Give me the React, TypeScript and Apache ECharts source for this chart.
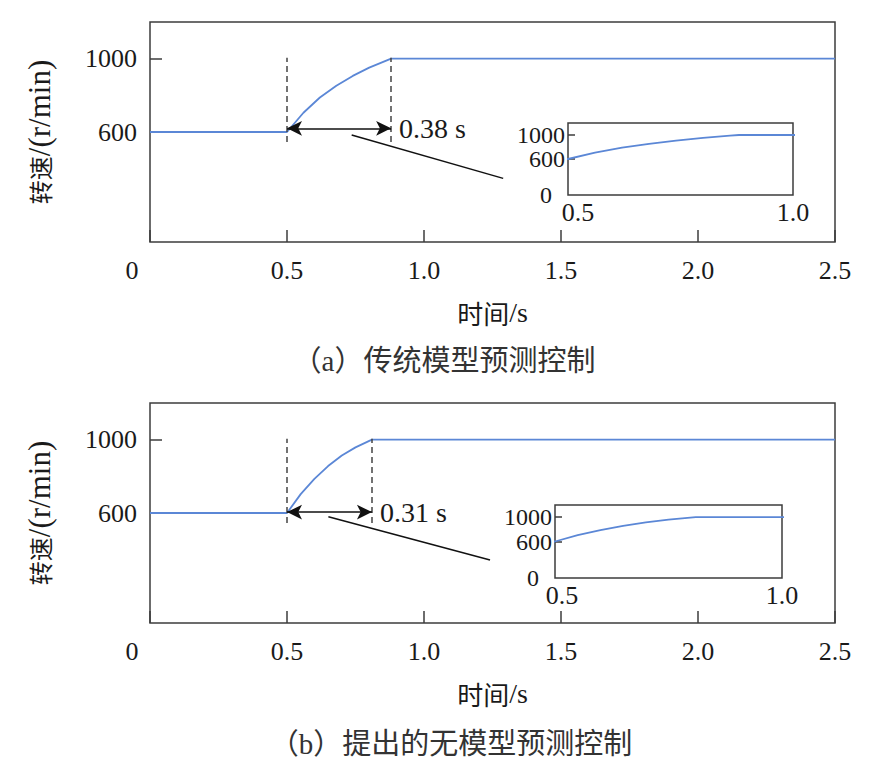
import { useEffect, useRef } from 'react';
import * as echarts from 'echarts';

// 速度响应数据
const timeA = [0, 0.5, 0.56, 0.62, 0.68, 0.74, 0.8, 0.86, 0.88, 2.5];
const speedA = [600, 600, 705, 788, 852, 906, 951, 988, 1000, 1000];
const timeB = [0, 0.5, 0.55, 0.6, 0.65, 0.7, 0.75, 0.81, 2.5];
const speedB = [600, 600, 703, 786, 856, 914, 958, 1000, 1000];

const mainYLabels = [600, 1000];
const insetYLabels = [0, 1000];
const insetMidLabel = [600];

// 标注
const stepStart = 0.5;
const settleA = 0.88;
const settleB = 0.81;
const riseA = '0.38 s';
const riseB = '0.31 s';
const dashRange = [545, 1005];
const arrowLevelA = 620;
const arrowLevelB = 605;
const linkA = [[0.736, 584], [1.289, 347]];
const linkB = [[0.651, 580], [1.241, 344]];

const captionA = '（a）传统模型预测控制';
const captionB = '（b）提出的无模型预测控制';

const BLUE = '#5b87d6';
const INK = '#1a1a1a';
const FRAME = '#3c3c3c';
const SERIF = '"Liberation Serif", "Times New Roman", serif';
const CJK = '"Noto Sans CJK SC", sans-serif';
const MIX = '"Liberation Serif", "Noto Sans CJK SC", serif';

const pairs = (xs: number[], ys: number[]) => xs.map((x, i) => [x, ys[i]]);

function frame(left: number, top: number, width: number, height: number, bg: string) {
  return {
    left, top, width, height,
    show: true,
    borderColor: FRAME,
    borderWidth: 1.5,
    backgroundColor: bg,
    containLabel: false,
  };
}

function mainX(gridIndex: number): any {
  return {
    gridIndex,
    type: 'value',
    min: 0,
    max: 2.5,
    interval: 0.5,
    axisLine: { show: false },
    axisTick: { show: true, inside: true, length: 12, lineStyle: { color: FRAME, width: 1.5 } },
    splitLine: { show: false },
    axisLabel: {
      margin: 15,
      fontSize: 26,
      color: INK,
      fontFamily: SERIF,
      formatter: (v: number) => (v === 0 ? '{z|0}' : v.toFixed(1)),
      rich: { z: { fontSize: 26, fontFamily: SERIF, color: INK, padding: [0, 36, 0, 0] } },
    },
    name: '{c|时间}{l|/s}',
    nameLocation: 'middle',
    nameGap: 56,
    nameTextStyle: {
      rich: {
        c: { fontSize: 26, fontFamily: CJK, color: INK },
        l: { fontSize: 28, fontFamily: SERIF, color: INK },
      },
    },
  };
}

function mainY(gridIndex: number): any {
  return {
    gridIndex,
    type: 'value',
    min: 0,
    max: 1200,
    interval: 200,
    axisLine: { show: false },
    axisTick: {
      show: true, inside: true, length: 12,
      customValues: mainYLabels,
      lineStyle: { color: FRAME, width: 1.5 },
    },
    splitLine: { show: false },
    axisLabel: {
      customValues: mainYLabels,
      margin: 13,
      fontSize: 26,
      color: INK,
      fontFamily: SERIF,
      formatter: (v: number) => String(v),
    },
    name: '{c|转速}{l|/(r/min)}',
    nameLocation: 'middle',
    nameGap: 95,
    nameTextStyle: {
      rich: {
        c: { fontSize: 24, fontFamily: CJK, color: INK },
        l: { fontSize: 31, fontFamily: SERIF, color: INK },
      },
    },
  };
}

function insetX(gridIndex: number, shift: number): any {
  return {
    gridIndex,
    type: 'value',
    min: 0.5,
    max: 1.0,
    interval: 0.5,
    axisLine: { show: false },
    axisTick: { show: false },
    splitLine: { show: false },
    axisLabel: {
      margin: 4,
      fontSize: 26,
      color: INK,
      fontFamily: SERIF,
      formatter: (v: number) => (v === 0.5 ? '{s|0.5}' : v.toFixed(1)),
      rich: { s: { fontSize: 26, fontFamily: SERIF, color: INK, padding: [0, 0, 0, shift * 2] } },
    },
  };
}

// 小图纵轴：0 与 1000 一根轴，600 另一根重叠的轴（避免标签互相隐藏）
function insetY(gridIndex: number, labels: number[], ticks: boolean): any {
  return {
    gridIndex,
    type: 'value',
    position: 'left',
    offset: 0,
    min: 0,
    max: 1200,
    interval: 200,
    axisLine: { show: false },
    axisTick: {
      show: ticks, inside: true, length: 7,
      customValues: [600, 1000],
      lineStyle: { color: FRAME, width: 1.5 },
    },
    splitLine: { show: false },
    axisLabel: {
      customValues: labels,
      hideOverlap: false,
      showMinLabel: true,
      showMaxLabel: true,
      margin: 3,
      fontSize: 24,
      lineHeight: 20,
      color: INK,
      fontFamily: SERIF,
      formatter: (v: number) => (v === 0 ? '{z|0}' : String(v)),
      rich: {
        z: { fontSize: 24, lineHeight: 20, fontFamily: SERIF, color: INK, padding: [0, 13, 0, 0] },
      },
    },
  };
}

function guides(settle: number, label: string, level: number, link: number[][]): any {
  const dash = { type: [6, 4], color: '#444', width: 1.5 };
  const solid = { type: 'solid', color: '#111', width: 1.5 };
  return {
    silent: true,
    animation: false,
    symbol: ['none', 'none'],
    label: { show: false },
    emphasis: { disabled: true },
    data: [
      [{ coord: [stepStart, dashRange[0]], lineStyle: dash }, { coord: [stepStart, dashRange[1]] }],
      [{ coord: [settle, dashRange[0]], lineStyle: dash }, { coord: [settle, dashRange[1]] }],
      [
        {
          coord: [stepStart, level],
          symbol: 'arrow',
          symbolSize: [11, 15],
          lineStyle: solid,
          label: {
            show: true,
            position: 'end',
            distance: 8,
            formatter: label,
            fontSize: 28,
            fontFamily: SERIF,
            color: INK,
          },
        },
        { coord: [settle, level], symbol: 'arrow', symbolSize: [11, 15] },
      ],
      [{ coord: link[0], lineStyle: solid }, { coord: link[1] }],
    ],
  };
}

function curve(data: number[][], xIndex: number, yIndex: number, markLine?: any): any {
  return {
    type: 'line',
    xAxisIndex: xIndex,
    yAxisIndex: yIndex,
    data,
    showSymbol: false,
    symbol: 'none',
    clip: true,
    lineStyle: { color: BLUE, width: 1.8 },
    itemStyle: { color: BLUE },
    markLine,
  };
}

function caption(text: string, x: number, y: number): any {
  return {
    type: 'text',
    x,
    y,
    style: {
      text,
      fontSize: 29,
      fontFamily: MIX,
      fill: '#333',
      align: 'center',
      verticalAlign: 'middle',
      textAlign: 'center',
      textVerticalAlign: 'middle',
    },
  };
}

export default function App(): JSX.Element {
  const chartRef = useRef<HTMLDivElement>(null);

  useEffect(() => {
    if (!chartRef.current) return;
    document.body.style.margin = '0';
    const chart = echarts.init(chartRef.current, null, { renderer: 'svg' });

    const dataA = pairs(timeA, speedA);
    const dataB = pairs(timeB, speedB);

    chart.setOption({
      animation: false,
      textStyle: { fontFamily: MIX },
      grid: [
        frame(150, 22, 685, 220, 'transparent'),
        frame(568, 123, 225, 72, '#fff'),
        frame(150, 403, 685, 220, 'transparent'),
        frame(555, 505, 227, 73, '#fff'),
      ],
      xAxis: [mainX(0), insetX(1, 10), mainX(2), insetX(3, 7)],
      yAxis: [
        mainY(0),
        insetY(1, insetYLabels, true),
        mainY(2),
        insetY(3, insetYLabels, true),
        insetY(1, insetMidLabel, false),
        insetY(3, insetMidLabel, false),
      ],
      series: [
        curve(dataA, 0, 0, guides(settleA, riseA, arrowLevelA, linkA)),
        curve(dataA, 1, 1),
        curve(dataB, 2, 2, guides(settleB, riseB, arrowLevelB, linkB)),
        curve(dataB, 3, 3),
      ],
      graphic: [caption(captionA, 444, 361), caption(captionB, 451, 744)],
    });

    return () => {
      chart.dispose();
    };
  }, []);

  return <div ref={chartRef} style={{ width: 884, height: 772 }} />;
}
